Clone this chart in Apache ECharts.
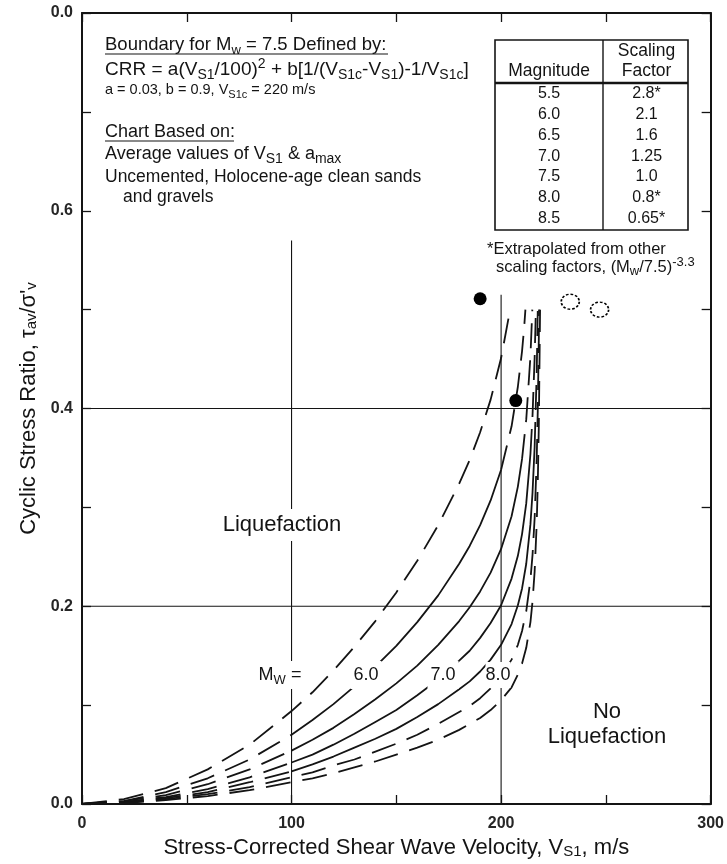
<!DOCTYPE html>
<html>
<head>
<meta charset="utf-8">
<script src="https://cdn.jsdelivr.net/npm/echarts@6.0.0/dist/echarts.min.js"></script>
<style>
  html, body { margin: 0; padding: 0; background: #fff; }
  #chart { width: 727px; height: 864px; }
</style>
</head>
<body>
<div id="chart"></div>
<script>
// Andrus & Stokoe liquefaction resistance curves, CSR vs. Vs1 for several magnitudes

// ---- data ----
const mw55 = [[0,0],[20,0.005],[40,0.016],[60,0.035],[80,0.060],[100,0.094],[110,0.113],[120,0.135],[130,0.159],[140,0.185],[150,0.214],[160,0.246],[170,0.282],[180,0.324],[185,0.348],[190,0.376],[195,0.409],[200,0.451],[204.3,0.5]];
const mw60 = [[0,0],[20,0.003],[40,0.012],[60,0.026],[80,0.045],[100,0.070],[110,0.085],[120,0.101],[130,0.119],[140,0.139],[150,0.160],[160,0.184],[170,0.211],[180,0.243],[185,0.261],[190,0.282],[195,0.307],[200,0.338],[205,0.382],[208,0.422],[210,0.458],[211,0.482],[211.6,0.5]];
const mw65 = [[0,0],[20,0.003],[40,0.009],[60,0.020],[80,0.035],[100,0.054],[110,0.065],[120,0.077],[130,0.091],[140,0.106],[150,0.122],[160,0.140],[170,0.161],[180,0.185],[185,0.199],[190,0.215],[195,0.234],[200,0.258],[205,0.291],[208,0.321],[210,0.349],[212,0.389],[214,0.453],[214.9,0.5]];
const mw70 = [[0,0],[20,0.002],[40,0.007],[60,0.015],[80,0.027],[100,0.042],[110,0.050],[120,0.060],[130,0.071],[140,0.083],[150,0.095],[160,0.110],[170,0.126],[180,0.145],[185,0.155],[190,0.168],[195,0.183],[200,0.201],[205,0.228],[208,0.251],[210,0.273],[212,0.304],[214,0.354],[215,0.393],[216,0.451],[216.6,0.5]];
const mw75 = [[0,0],[20,0.002],[40,0.006],[60,0.012],[80,0.022],[100,0.033],[110,0.040],[120,0.048],[130,0.057],[140,0.066],[150,0.076],[160,0.088],[170,0.101],[180,0.116],[185,0.124],[190,0.134],[195,0.146],[200,0.161],[205,0.182],[208,0.201],[210,0.218],[212,0.243],[214,0.283],[215,0.315],[216,0.361],[217,0.437],[217.5,0.5]];
const mw80 = [[0,0],[20,0.001],[40,0.005],[60,0.010],[80,0.017],[100,0.027],[110,0.032],[120,0.039],[130,0.045],[140,0.053],[150,0.061],[160,0.070],[170,0.081],[180,0.093],[185,0.099],[190,0.107],[195,0.117],[200,0.129],[205,0.146],[208,0.161],[210,0.175],[212,0.195],[214,0.227],[215,0.252],[216,0.289],[217,0.350],[217.5,0.398],[218,0.471],[218.1,0.5]];
const mw85 = [[0,0],[20,0.001],[40,0.004],[60,0.008],[80,0.014],[100,0.022],[110,0.026],[120,0.031],[130,0.037],[140,0.043],[150,0.050],[160,0.057],[170,0.065],[180,0.075],[185,0.081],[190,0.087],[195,0.095],[200,0.105],[205,0.118],[208,0.131],[210,0.142],[212,0.158],[214,0.184],[215,0.205],[216,0.235],[217,0.284],[217.5,0.324],[218,0.383],[218.5,0.480],[218.6,0.5]];

const liquefiedSites = [[190, 0.511], [207, 0.408]];
const nonLiquefiedSites = [[233, 0.508], [247, 0.500]];

const magnitudes = ['5.5', '6.0', '6.5', '7.0', '7.5', '8.0', '8.5'];
const scalingFactors = ['2.8*', '2.1', '1.6', '1.25', '1.0', '0.8*', '0.65*'];

const xLabelValues = [0, 100, 200, 300];
const xLabelTexts = ['0', '100', '200', '300'];
const yLabelValues = [0, 0.2, 0.4, 0.6, 0.8];
const yLabelTexts = ['0.0', '0.2', '0.4', '0.6', '0.0'];

const gridRowsY = [0.2, 0.4];
const gridColsX = [100, 200];
const gridColsTop = [0.57, 0.515];

// ---- styling ----
const FONT = '"Liberation Sans", Arial, Helvetica, sans-serif';
const INK = '#141414';
const DASH = [25, 12];

const curves = [
  { mw: '5.5', data: mw55, allDashed: true },
  { mw: '6.0', data: mw60, allDashed: false },
  { mw: '6.5', data: mw65, allDashed: false },
  { mw: '7.0', data: mw70, allDashed: false },
  { mw: '7.5', data: mw75, allDashed: false },
  { mw: '8.0', data: mw80, allDashed: true },
  { mw: '8.5', data: mw85, allDashed: true }
];

function curveSeries(data, dashed) {
  return {
    type: 'line', data: data, xAxisIndex: 0, yAxisIndex: 0,
    symbol: 'none', showSymbol: false, silent: true, smooth: false, z: 3,
    lineStyle: { color: INK, width: 1.8, type: dashed ? DASH : 'solid', cap: 'butt', join: 'round' }
  };
}

// well-constrained part of each curve is solid; extrapolated ends are dashed
const SOLID_FROM_X = 100;
const SOLID_TO_CSR = 0.362;
const series = [];
curves.forEach(c => {
  const d = c.data;
  if (c.allDashed) { series.push(curveSeries(d, true)); return; }
  const i1 = d.findIndex(p => p[0] >= SOLID_FROM_X);
  let i2 = i1;
  while (i2 + 1 < d.length && d[i2 + 1][1] <= SOLID_TO_CSR) i2++;
  series.push(curveSeries(d.slice(0, i1 + 1), true));
  series.push(curveSeries(d.slice(i1, i2 + 1), false));
  series.push(curveSeries(d.slice(i2), true));
});

// reference lines
gridRowsY.forEach(v => series.push({
  type: 'line', data: [[0, v], [300, v]], symbol: 'none', silent: true, z: 2,
  lineStyle: { color: INK, width: 1.1 }
}));
gridColsX.forEach((v, i) => series.push({
  type: 'line', data: [[v, 0], [v, gridColsTop[i]]], symbol: 'none', silent: true, z: 2,
  lineStyle: { color: INK, width: 1.1 }
}));

// case-history points
series.push({
  type: 'scatter', data: liquefiedSites, symbol: 'circle', symbolSize: 13, z: 6, silent: true,
  itemStyle: { color: '#000', opacity: 1 }
});
series.push({
  type: 'scatter', data: nonLiquefiedSites, symbol: 'circle', symbolSize: [18, 15], z: 6, silent: true,
  itemStyle: { color: '#fff', opacity: 1, borderColor: '#000', borderWidth: 1.6, borderType: [2.5, 1.8] }
});

// ---- text helpers ----
function richStyles(size, subSize) {
  const ss = subSize || Math.round(size * 0.72);
  return {
    n: { fontSize: size, fontFamily: FONT, fill: INK, lineHeight: size + 6 },
    s: { fontSize: ss, fontFamily: FONT, fill: INK, verticalAlign: 'bottom', lineHeight: ss + 1 },
    p: { fontSize: ss, fontFamily: FONT, fill: INK, verticalAlign: 'top', lineHeight: ss + 1 }
  };
}
function gText(x, y, text, size, align, extra, subSize) {
  return {
    type: 'text', x: x, y: y, z: 100, silent: true,
    style: Object.assign({
      text: text, rich: richStyles(size, subSize), fontSize: size, fontFamily: FONT, fill: INK,
      align: align || 'left', verticalAlign: 'middle'
    }, extra || {})
  };
}
function gLine(x1, y1, x2, y2, w) {
  return { type: 'line', z: 100, silent: true, shape: { x1: x1, y1: y1, x2: x2, y2: y2 },
    style: { stroke: INK, lineWidth: w || 1 } };
}

const graphics = [];
// boundary description
graphics.push(gText(105, 45, '{n|Boundary for M}{s|w}{n| = 7.5 Defined by:}', 18.5));
graphics.push(gLine(105, 54, 388, 54, 1.1));
graphics.push(gText(105, 70, '{n|CRR = a(V}{s|S1}{n|/100)}{p|2}{n| + b[1/(V}{s|S1c}{n|-V}{s|S1}{n|)-1/V}{s|S1c}{n|]}', 19, 'left', null, 14));
graphics.push(gText(105, 90, '{n|a = 0.03, b = 0.9, V}{s|S1c}{n| = 220 m/s}', 14.5, 'left', null, 11));
graphics.push(gText(105, 132, '{n|Chart Based on:}', 18));
graphics.push(gLine(105, 141, 234, 141, 1.1));
graphics.push(gText(105, 154, '{n|Average values of V}{s|S1}{n| & a}{s|max}', 18, 'left', null, 14));
graphics.push(gText(105, 177, '{n|Uncemented, Holocene-age clean sands}', 17.5));
graphics.push(gText(123, 197, '{n|and gravels}', 17.5));

// magnitude scaling factor table
const T = { left: 495, right: 688, top: 40, bottom: 230, mid: 603, head: 83, row0: 94, rowStep: 20.7 };
graphics.push({ type: 'rect', z: 100, silent: true,
  shape: { x: T.left, y: T.top, width: T.right - T.left, height: T.bottom - T.top },
  style: { fill: '#fff', stroke: INK, lineWidth: 1.6 } });
graphics.push(gLine(T.mid, T.top, T.mid, T.bottom, 1.4));
graphics.push(gLine(T.left, T.head, T.right, T.head, 2.4));
const cMag = (T.left + T.mid) / 2, cFac = (T.mid + T.right) / 2 + 1;
graphics.push(gText(cMag, 71, '{n|Magnitude}', 17.5, 'center'));
graphics.push(gText(cFac, 51, '{n|Scaling}', 17.5, 'center'));
graphics.push(gText(cFac, 71, '{n|Factor}', 17.5, 'center'));
magnitudes.forEach((m, i) => {
  const y = T.row0 + i * T.rowStep;
  graphics.push(gText(cMag, y, '{n|' + m + '}', 16, 'center'));
  graphics.push(gText(cFac, y, '{n|' + scalingFactors[i] + '}', 16, 'center'));
});
graphics.push(gText(487, 249, '{n|*Extrapolated from other}', 16.5));
graphics.push(gText(496, 267, '{n|scaling factors, (M}{s|w}{n|/7.5)}{p|-3.3}', 16.5, 'left', null, 13));

// region and curve labels (white boxes break the lines behind them)
const boxed = { backgroundColor: '#fff', padding: [2, 3] };
graphics.push(gText(282, 525, '{n|Liquefaction}', 22, 'center', boxed));
graphics.push(gText(607, 712, '{n|No}', 22, 'center'));
graphics.push(gText(607, 737, '{n|Liquefaction}', 22, 'center'));
graphics.push(gText(280, 675, '{n|M}{s|W}{n| =}', 18, 'center', boxed, 13));
graphics.push(gText(366, 675, '{n|6.0}', 18, 'center', boxed));
graphics.push(gText(443, 675, '{n|7.0}', 18, 'center', boxed));
graphics.push(gText(498, 675, '{n|8.0}', 18, 'center', { backgroundColor: '#fff', padding: [1, 0] }));

// ---- axes ----
const axisLine = { show: true, onZero: false, lineStyle: { color: INK, width: 2 } };
const tickIn = { show: true, inside: true, length: 9, lineStyle: { color: INK, width: 1.3 } };
const nameRich = {
  n: { fontSize: 22, fontFamily: FONT, color: INK },
  s: { fontSize: 15, fontFamily: FONT, color: INK, verticalAlign: 'bottom', lineHeight: 16 }
};
const tickFont = { fontSize: 16, fontFamily: FONT, fontWeight: 'bold', color: '#262626' };

const option = {
  animation: false,
  backgroundColor: '#fff',
  grid: { left: 82, right: 15, top: 13, bottom: 59, containLabel: false },
  xAxis: [
    {
      type: 'value', min: 0, max: 300, interval: 50, position: 'bottom',
      axisLine: axisLine, axisTick: tickIn, splitLine: { show: false },
      axisLabel: Object.assign({
        margin: 12,
        formatter: v => { const i = xLabelValues.indexOf(v); return i >= 0 ? xLabelTexts[i] : ''; }
      }, tickFont),
      name: '{n|Stress-Corrected Shear Wave Velocity, V}{s|S1}{n|, m/s}',
      nameLocation: 'middle', nameGap: 33,
      nameTextStyle: { rich: nameRich }
    },
    {
      type: 'value', min: 0, max: 300, interval: 50, position: 'top',
      axisLine: axisLine, axisTick: tickIn, axisLabel: { show: false }, splitLine: { show: false }
    }
  ],
  yAxis: [
    {
      type: 'value', min: 0, max: 0.8, interval: 0.1, position: 'left',
      axisLine: axisLine, axisTick: tickIn, splitLine: { show: false },
      axisLabel: Object.assign({
        margin: 9,
        formatter: v => {
          const i = yLabelValues.findIndex(t => Math.abs(t - v) < 1e-6);
          return i >= 0 ? yLabelTexts[i] : '';
        }
      }, tickFont),
      name: "{n|Cyclic Stress Ratio, τ}{s|av}{n|/σ'}{s|v}",
      nameLocation: 'middle', nameGap: 35,
      nameTextStyle: { rich: nameRich }
    },
    {
      type: 'value', min: 0, max: 0.8, interval: 0.1, position: 'right',
      axisLine: axisLine, axisTick: tickIn, axisLabel: { show: false }, splitLine: { show: false }
    }
  ],
  series: series,
  graphic: { elements: graphics }
};

const chart = echarts.init(document.getElementById('chart'), null, { renderer: 'canvas' });
chart.setOption(option);
</script>
</body>
</html>
